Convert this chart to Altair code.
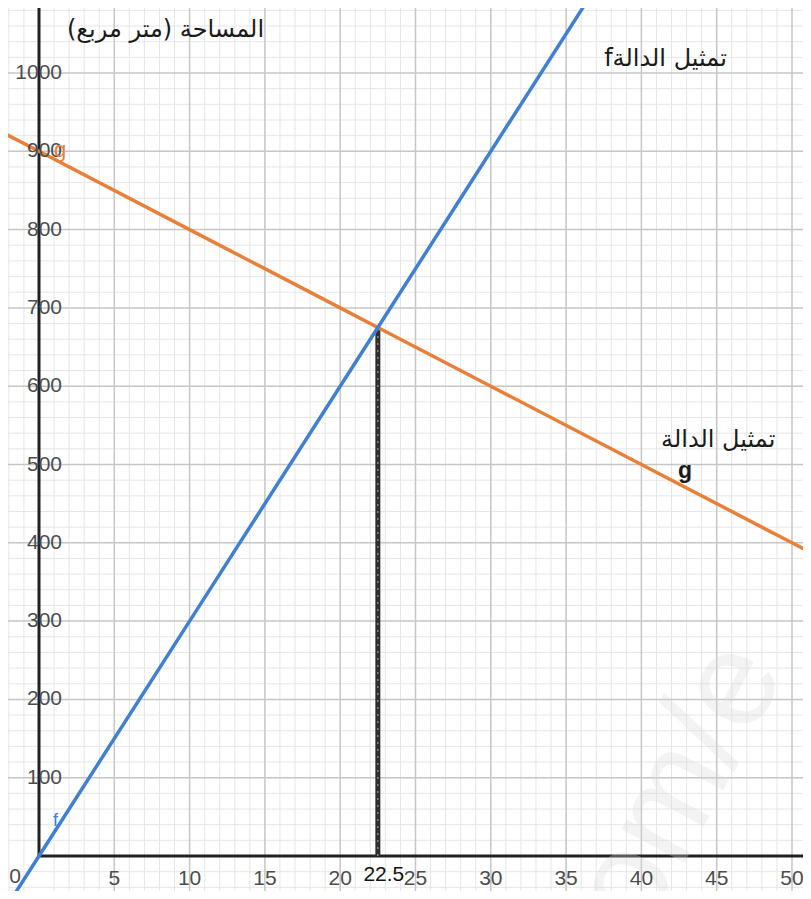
import altair as alt
import pandas as pd

# ---- data ----
f_x = [-2, 0, 10, 20, 22.5, 30, 37]
f_y = [-60, 0, 300, 600, 675, 900, 1110]
g_x = [-3, 0, 10, 20, 22.5, 30, 40, 50, 52]
g_y = [930, 900, 800, 700, 675, 600, 500, 400, 380]
meet_x = [22.5]
meet_y = [675]
x_tick_values = [5, 10, 15, 20, 25, 30, 35, 40, 45, 50]
y_tick_values = [100, 200, 300, 400, 500, 600, 700, 800, 900, 1000]
minor_x = [v for v in range(-2, 52) if v % 5 != 0]
minor_y = [v for v in range(-40, 1090, 20) if v % 100 != 0]

ann_text = ["\u202bالمساحة (متر مربع)\u202c", "fتمثيل الدالة", "تمثيل الدالة"]
ann_x = [8.4, 41.6, 45.1]
ann_y = [1055, 1018, 531]

W, H = 795, 883
X_DOMAIN = [(8 - 39) / 15.06, (8 + W - 39) / 15.06]
Y_DOMAIN = [(856 - (8 + H)) / 0.783, (856 - 8) / 0.783]

xs = alt.Scale(domain=X_DOMAIN, nice=False, zero=False)
ys = alt.Scale(domain=Y_DOMAIN, nice=False, zero=False)

def X(f="x"):
    return alt.X(f"{f}:Q", scale=xs, axis=None)

def Y(f="y"):
    return alt.Y(f"{f}:Q", scale=ys, axis=None)

minor_v = alt.Chart(pd.DataFrame({"x": minor_x})).mark_rule(
    color="#e6e6e6", strokeWidth=1).encode(x=X())
minor_h = alt.Chart(pd.DataFrame({"y": minor_y})).mark_rule(
    color="#e6e6e6", strokeWidth=1).encode(y=Y())
major_v = alt.Chart(pd.DataFrame({"x": x_tick_values})).mark_rule(
    color="#c6c6c6", strokeWidth=1.5).encode(x=X())
major_h = alt.Chart(pd.DataFrame({"y": y_tick_values})).mark_rule(
    color="#c6c6c6", strokeWidth=1.5).encode(y=Y())

x_axis = alt.Chart(pd.DataFrame({"x": [0], "x2": [X_DOMAIN[1]], "y": [0]})).mark_rule(
    color="#222222", strokeWidth=3).encode(x=X(), x2="x2:Q", y=Y())
y_axis = alt.Chart(pd.DataFrame({"x": [0], "y": [0], "y2": [Y_DOMAIN[1]]})).mark_rule(
    color="#222222", strokeWidth=3).encode(x=X(), y=Y(), y2="y2:Q")

watermark = alt.Chart(pd.DataFrame({"x": [42.5], "y": [90], "t": ["om/e"]})).mark_text(
    font="Liberation Sans", fontSize=135, color="#d8d8d8", opacity=0.3, angle=298,
    baseline="middle").encode(x=X(), y=Y(), text="t:N")

drop_df = pd.DataFrame({"x": meet_x, "y": [0], "y2": meet_y})
drop_dark = alt.Chart(drop_df).mark_rule(color="#2e2e2e", strokeWidth=5).encode(
    x=X(), y=Y(), y2="y2:Q")
drop_light = alt.Chart(drop_df).mark_rule(color="#9a9a9a", strokeWidth=1.2,
                                          strokeDash=[2, 5]).encode(x=X(), y=Y(), y2="y2:Q")

g_line = alt.Chart(pd.DataFrame({"x": g_x, "y": g_y})).mark_line(
    color="#e8803a", strokeWidth=3.5, clip=True).encode(x=X(), y=Y())
f_line = alt.Chart(pd.DataFrame({"x": f_x, "y": f_y})).mark_line(
    color="#3f80d2", strokeWidth=3.5, clip=True).encode(x=X(), y=Y())

lbl_font = "Liberation Sans"
x_labels = alt.Chart(pd.DataFrame({"x": x_tick_values, "y": [0] * len(x_tick_values),
                                   "t": [str(v) for v in x_tick_values]})).mark_text(
    font=lbl_font, fontSize=21, color="#4d4d4d", dy=23, baseline="middle").encode(
    x=X(), y=Y(), text="t:N")
y_labels = alt.Chart(pd.DataFrame({"x": [0] * len(y_tick_values), "y": y_tick_values,
                                   "t": [str(v) for v in y_tick_values]})).mark_text(
    font=lbl_font, fontSize=21, color="#4d4d4d", dx=23, align="right", baseline="middle").encode(
    x=X(), y=Y(), text="t:N")
zero_label = alt.Chart(pd.DataFrame({"x": [0], "y": [0], "t": ["0"]})).mark_text(
    font=lbl_font, fontSize=21, color="#4d4d4d", dx=-24, dy=21, baseline="middle").encode(
    x=X(), y=Y(), text="t:N")
meet_label = alt.Chart(pd.DataFrame({"x": meet_x, "y": [0], "t": ["22.5"]})).mark_text(
    font=lbl_font, fontSize=21, color="#111111", dx=6, dy=19, baseline="middle").encode(
    x=X(), y=Y(), text="t:N")

ann = alt.Chart(pd.DataFrame({"x": ann_x, "y": ann_y, "t": ann_text})).mark_text(
    font="DejaVu Sans", fontSize=24, color="#1a1a1a", baseline="middle").encode(
    x=X(), y=Y(), text="t:N")
g_black = alt.Chart(pd.DataFrame({"x": [42.9], "y": [492], "t": ["g"]})).mark_text(
    font=lbl_font, fontSize=23, fontWeight="bold", color="#1a1a1a", baseline="middle").encode(
    x=X(), y=Y(), text="t:N")
g_tag = alt.Chart(pd.DataFrame({"x": [1.4], "y": [902], "t": ["g"]})).mark_text(
    font=lbl_font, fontSize=22, color="#e8803a", baseline="middle").encode(
    x=X(), y=Y(), text="t:N")
f_tag = alt.Chart(pd.DataFrame({"x": [1.1], "y": [45], "t": ["f"]})).mark_text(
    font=lbl_font, fontSize=18, color="#3f80d2", baseline="middle").encode(
    x=X(), y=Y(), text="t:N")

chart = alt.layer(
    minor_v, minor_h, major_v, major_h, x_axis, y_axis, watermark,
    drop_dark, drop_light, g_line, f_line,
    x_labels, y_labels, zero_label, meet_label, ann, g_black, g_tag, f_tag
).properties(
    width=W, height=H, padding=0, autosize=alt.AutoSizeParams(type="none"),
    background="white"
).configure_view(stroke=None)

chart.save("out.html", embed_options={"renderer": "svg", "actions": False})
